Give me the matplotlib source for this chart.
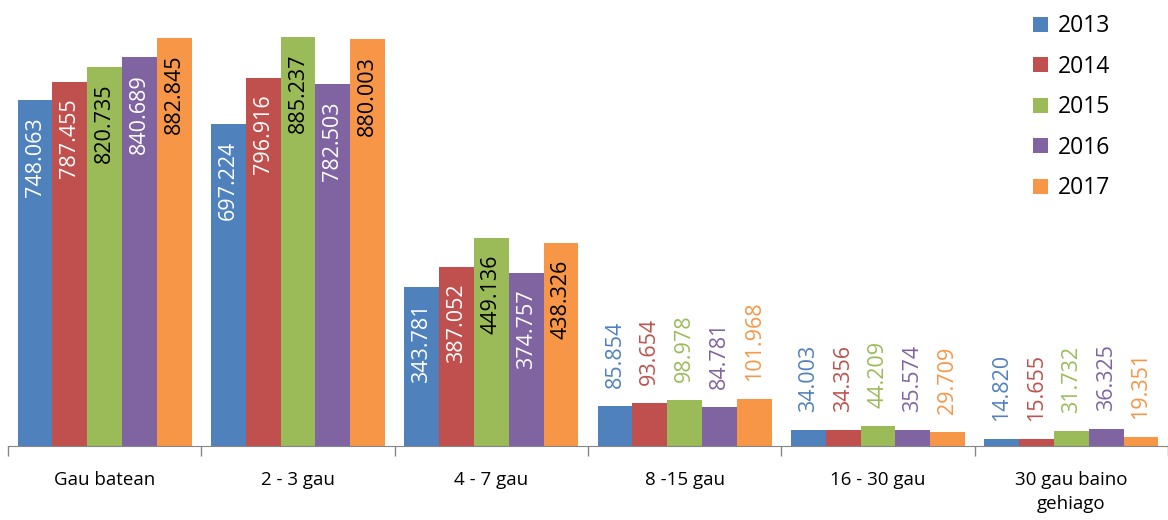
import numpy as np
import matplotlib.pyplot as plt

plt.rcParams['font.family'] = ['Open Sans', 'DejaVu Sans']

categories = ['Gau batean', '2 - 3 gau', '4 - 7 gau', '8 -15 gau', '16 - 30 gau', '30 gau baino\ngehiago']
years = ['2013', '2014', '2015', '2016', '2017']
v2013 = [748.063, 697.224, 343.781, 85.854, 34.003, 14.820]
v2014 = [787.455, 796.916, 387.052, 93.654, 34.356, 15.655]
v2015 = [820.735, 885.237, 449.136, 98.978, 44.209, 31.732]
v2016 = [840.689, 782.503, 374.757, 84.781, 35.574, 36.325]
v2017 = [882.845, 880.003, 438.326, 101.968, 29.709, 19.351]
series = [v2013, v2014, v2015, v2016, v2017]

colors = ['#4F81BD', '#C0504D', '#9BBB59', '#8064A2', '#F79646']
inside_colors = ['white', 'white', 'black', 'white', 'black']

fig = plt.figure(figsize=(11.68, 5.2), dpi=100)
ax = fig.add_axes([8/1168, 74/520, 1160/1168, 446/520])

x = np.arange(len(categories))
w = 0.18
for i, vals in enumerate(series):
    pos = x + (i - 2) * w
    ax.bar(pos, vals, width=w, color=colors[i], label=years[i])
    for p, v in zip(pos, vals):
        txt = f'{v:.3f}'
        if v > 300:
            ax.annotate(txt, (p, v), xytext=(0, -12), textcoords='offset points',
                        rotation=90, ha='center', va='top', fontsize=15.5,
                        color=inside_colors[i])
        else:
            ax.annotate(txt, (p, v), xytext=(0, 13), textcoords='offset points',
                        rotation=90, ha='center', va='bottom', fontsize=15.5,
                        color=colors[i])

ax.set_xlim(-0.5, len(categories) - 0.5)
ax.set_ylim(0, 965)
ax.set_yticks([])
for s in ['left', 'right', 'top']:
    ax.spines[s].set_visible(False)
ax.spines['bottom'].set_color('#868686')
ax.set_xticks(x)
ax.set_xticklabels(categories, fontsize=13.5, linespacing=1.45)
ax.tick_params(axis='x', which='major', length=0, pad=18)
ax.set_xticks(np.arange(-0.5, len(categories)), minor=True)
ax.tick_params(axis='x', which='minor', length=7, color='#868686', width=1)

ax.legend(loc='upper left', bbox_to_anchor=(1012/1168, 1.012), bbox_transform=fig.transFigure,
          frameon=False, fontsize=16.5, handlelength=0.65, handleheight=0.65,
          handletextpad=0.45, labelspacing=0.72)

plt.savefig('out.png')
